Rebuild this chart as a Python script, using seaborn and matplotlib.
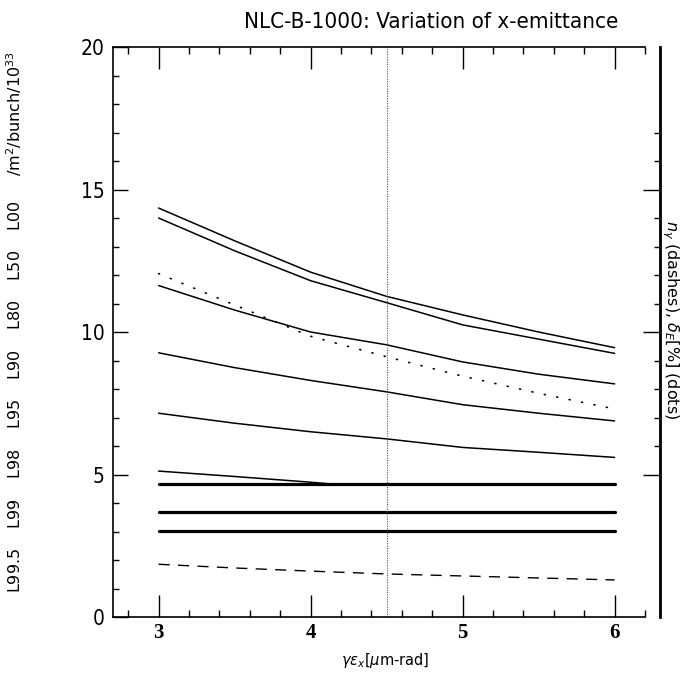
import numpy as np
import pandas as pd
import matplotlib
matplotlib.use("Agg")
import matplotlib.pyplot as plt
from matplotlib.ticker import MultipleLocator, NullFormatter
import seaborn as sns

# ---- data ----
x = [3.0, 3.5, 4.0, 4.5, 5.0, 5.5, 6.0]
L00 = [14.35, 13.20, 12.10, 11.25, 10.60, 10.00, 9.45]
L50 = [14.00, 12.85, 11.80, 11.03, 10.25, 9.75, 9.25]
L80 = [11.63, 10.77, 10.00, 9.55, 8.95, 8.52, 8.18]
L90 = [9.27, 8.75, 8.30, 7.90, 7.45, 7.15, 6.88]
L95 = [7.15, 6.80, 6.50, 6.25, 5.95, 5.78, 5.60]
x_l98 = [3.0, 3.5, 4.0, 4.15]
L98 = [5.12, 4.93, 4.73, 4.66]
flat_x = [3.0, 6.0]
flat_levels = [4.66, 3.70, 3.03]
n_gamma = [1.85, 1.72, 1.61, 1.51, 1.44, 1.37, 1.30]
delta_E = [12.05, 10.95, 9.85, 9.13, 8.45, 7.85, 7.30]
x_marker = 4.5

sns.set_style("ticks")
plt.rcParams['font.family'] = ['DejaVu Sans']
for key in ('text.color', 'axes.edgecolor', 'xtick.color', 'ytick.color', 'axes.labelcolor'):
    plt.rcParams[key] = 'black'

fig = plt.figure(figsize=(6.83, 6.83), dpi=100)
ax = fig.add_axes([113/683, 1-617/683, (645-113)/683, (617-47)/683])

k = dict(color="black", linewidth=1.1, legend=False, ax=ax)
for ser in (L00, L50, L80, L90, L95):
    sns.lineplot(x=x, y=ser, **k)
sns.lineplot(x=x_l98, y=L98, **k)
for lev in flat_levels:
    sns.lineplot(x=flat_x, y=[lev, lev], color="black", linewidth=2.3, legend=False, ax=ax)
sns.lineplot(x=x, y=n_gamma, color="black", linewidth=1.0, legend=False, ax=ax).lines[-1].set_dashes([8, 6])
sns.lineplot(x=x, y=delta_E, color="black", linewidth=1.2, legend=False, ax=ax).lines[-1].set_dashes([0.6, 7])
ax.lines[-1].set_dash_capstyle("round")
ax.axvline(x_marker, color="#555555", linewidth=0.8, linestyle=(0, (1, 1.2)))

ax.set_xlim(2.7, 6.2)
ax.set_ylim(0, 20)
ax.xaxis.set_major_locator(MultipleLocator(1))
ax.xaxis.set_minor_locator(MultipleLocator(0.2))
ax.yaxis.set_major_locator(MultipleLocator(5))
ax.yaxis.set_minor_locator(MultipleLocator(1))
ax.tick_params(axis="x", which="both", direction="in", top=True, bottom=True, width=1.0)
ax.tick_params(axis="x", which="major", length=16, pad=4)
ax.tick_params(axis="x", which="minor", length=5)
ax.tick_params(axis="y", which="both", direction="in", left=True, right=False, width=1.0)
ax.tick_params(axis="y", which="major", length=11, pad=6)
ax.tick_params(axis="y", which="minor", length=4)
for lab in ax.get_xticklabels():
    lab.set_fontfamily("Liberation Serif")
    lab.set_fontweight("bold")
    lab.set_fontsize(15)
for lab in ax.get_yticklabels():
    lab.set_fontfamily("DejaVu Sans")
    lab.set_fontstretch("condensed")
    lab.set_fontsize(15)
ax.spines["right"].set_visible(False)
for s in ("left", "top", "bottom"):
    ax.spines[s].set_linewidth(1.2)
ax.set_xlabel("")
ax.set_ylabel("")

# right-hand axis
ax2 = ax.twinx()
ax2.set_ylim(0, 20)
for s in ("left", "top", "bottom"):
    ax2.spines[s].set_visible(False)
ax2.spines["right"].set_position(("outward", 10.8))
ax2.spines["right"].set_linewidth(2.0)
ax2.set_yticks([5, 10, 15])
ax2.set_yticks(np.arange(6, 18, 1), minor=True)
ax2.yaxis.set_major_formatter(NullFormatter())
ax2.tick_params(axis="y", which="major", direction="in", length=12, width=1.0)
ax2.tick_params(axis="y", which="minor", direction="in", length=4, width=1.0)

fig.text(431/683, 1-22/683, "NLC-B-1000: Variation of x-emittance", ha="center", va="center",
         fontsize=16, family="DejaVu Sans", fontstretch="condensed")
fig.text(385/683, 1-660/683, r"$\gamma\epsilon_x$[$\mu$m-rad]", ha="center", va="center", fontsize=10.5)
fig.text(14/683, 1-322/683,
         "L99.5    L99    L98    L95    L90    L80    L50    L00     /m$^2$/bunch/10$^{33}$",
         rotation=90, ha="center", va="center", fontsize=11.5)
fig.text(670/683, 1-320/683, r"$n_\gamma$ (dashes), $\delta_E$[%] (dots)",
         rotation=-90, ha="center", va="center", fontsize=11.5)

fig.savefig("out.png", dpi=100)
